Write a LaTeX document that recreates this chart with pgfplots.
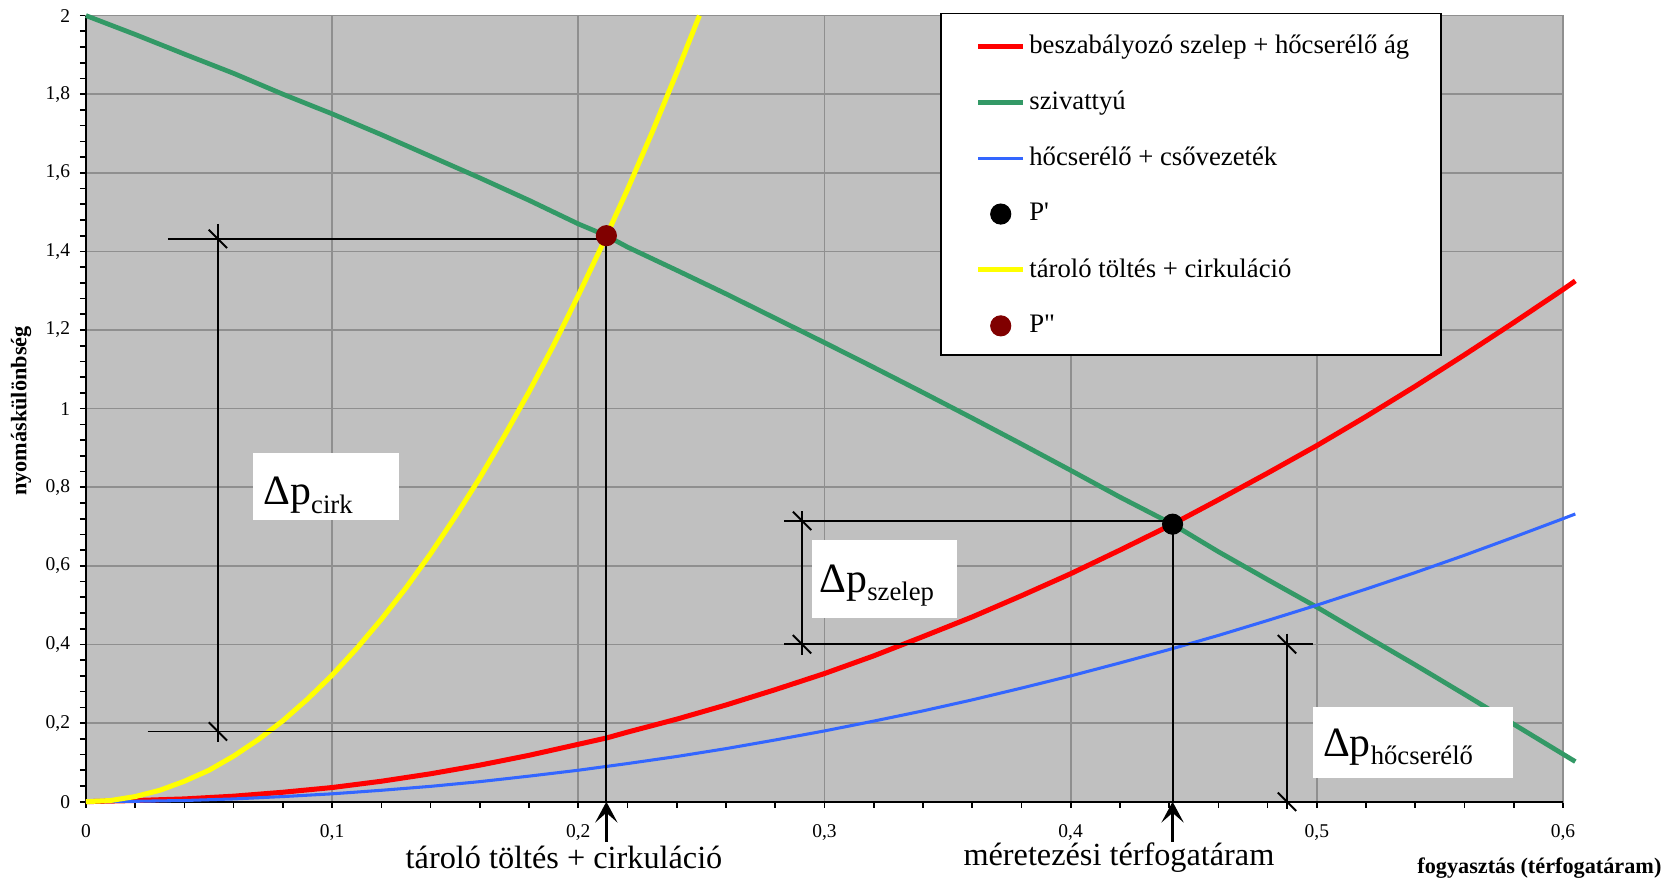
\documentclass[border=0pt]{standalone}
\usepackage{fontspec}
\setmainfont{Liberation Serif}
\newfontfamily\plainserif{Liberation Serif}
\usepackage{pgfplots}
\pgfplotsset{compat=1.18}
\usepackage{pgfplotstable}
\usetikzlibrary{arrows.meta}
\definecolor{plotbg}{HTML}{C0C0C0}
\definecolor{gridgray}{HTML}{8F8F8F}
\definecolor{cred}{HTML}{FF0000}
\definecolor{cgreen}{HTML}{339966}
\definecolor{cblue}{HTML}{3366FF}
\definecolor{cyellow}{HTML}{FFFF00}
\definecolor{cdarkred}{HTML}{800000}

\pgfplotstableread{
x y
0 0
0.02 0.003
0.04 0.007
0.06 0.014
0.08 0.024
0.10 0.036
0.12 0.052
0.14 0.071
0.16 0.093
0.18 0.118
0.20 0.146
0.2114 0.162
0.22 0.177
0.24 0.210
0.26 0.246
0.28 0.285
0.30 0.326
0.32 0.371
0.34 0.420
0.36 0.470
0.38 0.524
0.40 0.580
0.42 0.640
0.4414 0.706
0.46 0.768
0.48 0.836
0.50 0.906
0.52 0.980
0.54 1.057
0.56 1.137
0.58 1.219
0.60 1.303
0.605 1.325
}\redtab

\pgfplotstableread{
x y
0 2.000
0.02 1.952
0.04 1.902
0.06 1.853
0.08 1.800
0.10 1.750
0.12 1.697
0.14 1.642
0.16 1.587
0.18 1.530
0.20 1.470
0.2114 1.440
0.22 1.411
0.24 1.352
0.26 1.292
0.28 1.230
0.30 1.168
0.32 1.105
0.34 1.041
0.36 0.976
0.38 0.910
0.40 0.843
0.42 0.775
0.4414 0.706
0.46 0.636
0.48 0.565
0.50 0.495
0.52 0.421
0.54 0.348
0.56 0.273
0.58 0.197
0.60 0.121
0.605 0.102
}\greentab

\pgfplotstableread{
x y
0 0
0.02 0.001
0.04 0.003
0.06 0.007
0.08 0.013
0.10 0.020
0.12 0.029
0.14 0.039
0.16 0.051
0.18 0.065
0.20 0.080
0.22 0.097
0.24 0.115
0.26 0.135
0.28 0.157
0.30 0.180
0.32 0.205
0.34 0.231
0.36 0.259
0.38 0.289
0.40 0.320
0.42 0.353
0.44 0.387
0.46 0.423
0.48 0.461
0.50 0.500
0.52 0.541
0.54 0.583
0.56 0.627
0.58 0.673
0.60 0.720
0.605 0.732
}\bluetab

\pgfplotstableread{
x y
0 0
0.01 0.003
0.02 0.013
0.03 0.029
0.04 0.052
0.05 0.080
0.06 0.116
0.07 0.158
0.08 0.206
0.09 0.261
0.10 0.322
0.11 0.390
0.12 0.464
0.13 0.544
0.14 0.631
0.15 0.725
0.16 0.824
0.17 0.931
0.18 1.043
0.19 1.162
0.20 1.288
0.21 1.420
0.22 1.558
0.23 1.703
0.24 1.855
0.2492 2.000
}\yellowtab

\begin{document}
\begin{tikzpicture}
\useasboundingbox (0,0) rectangle (600pt,317pt);
\begin{axis}[
  at={(30.9pt,28.8pt)}, anchor=south west,
  scale only axis, width=531pt, height=282.6pt,
  xmin=0, xmax=0.6, ymin=0, ymax=2,
  xtick={0,0.1,0.2,0.3,0.4,0.5,0.6},
  ytick={0,0.2,0.4,0.6,0.8,1,1.2,1.4,1.6,1.8,2},
  minor x tick num=4, minor y tick num=4,
  xtick pos=left, ytick pos=left,
  tick align=outside, major tick length=2.2pt, minor tick length=2.2pt,
  tick style={black, line width=0.6pt},
  grid=major, major grid style={draw=gridgray, line width=0.6pt},
  axis background/.style={fill=plotbg},
  axis line style={draw=gridgray, line width=0.6pt},
  clip=false,
  /pgf/number format/use comma,
  /pgf/number format/fixed,
  /pgf/number format/assume math mode=true,
  tick label style={font=\fontsize{7}{8}\selectfont},
  x tick label style={yshift=-2.5pt},
  xlabel={fogyasztás (térfogatáram)},
  ylabel={nyomáskülönbség},
  xlabel style={at={(axis description cs:0.984,-0.084)}, anchor=center, font=\bfseries\fontsize{8}{9.6}\selectfont},
  ylabel style={at={(axis description cs:-0.0439,0.497)}, anchor=center, font=\bfseries\fontsize{8}{9.6}\selectfont},
  legend style={draw=none, fill=none, at={(axis cs:0.3473,2.005)}, anchor=north west,
    inner xsep=12.4pt, inner ysep=1.5pt, row sep=0pt, column sep=0pt,
    font=\fontsize{9.6}{11.5}\selectfont,
    nodes={minimum height=20.1pt, inner ysep=0pt, inner xsep=1.4pt}},
  legend cell align=left,
  legend image code/.code={\draw[mark repeat=2,mark phase=2,#1] plot coordinates {(0pt,0pt) (8pt,0pt) (16pt,0pt)};},
]
% black left / bottom axis lines
\draw[black, line width=0.7pt] (axis cs:0,2) -- (axis cs:0,0) -- (axis cs:0.6,0);

\addplot[cred, line width=1.8pt, no marks] table {\redtab};
\addlegendentry{beszabályozó szelep + hőcserélő ág}
\addplot[cgreen, line width=1.7pt, no marks] table {\greentab};
\addlegendentry{szivattyú}
\addplot[cblue, line width=1.1pt, no marks] table {\bluetab};
\addlegendentry{hőcserélő + csővezeték}
\addplot[only marks, mark=*, mark size=3.6pt, draw=black, fill=black] coordinates {(0.4414,0.706)};
\addlegendentry{{\plainserif P'}}
\addplot[cyellow, line width=1.8pt, no marks] table {\yellowtab};
\addlegendentry{tároló töltés + cirkuláció}
\addplot[only marks, mark=*, mark size=3.6pt, draw=cdarkred, fill=cdarkred] coordinates {(0.2114,1.44)};
\addlegendentry{{\plainserif P"}}

% legend frame
\draw[black, line width=0.6pt, fill=white] (axis cs:0.3473,2.005) rectangle (axis cs:0.5504,1.137);

% dimension lines: cirk
\draw[black, line width=0.7pt] (axis cs:0.0333,1.432) -- (axis cs:0.2114,1.432);
\draw[black, line width=0.7pt] (axis cs:0.0251,0.1786) -- (axis cs:0.2114,0.1786);
\draw[black, line width=0.7pt] (axis cs:0.0536,1.47) -- (axis cs:0.0536,0.152);
\draw[black, line width=0.7pt] (axis cs:0.0536,1.432) ++(-3.3pt,3.3pt) -- ++(6.6pt,-6.6pt);
\draw[black, line width=0.7pt] (axis cs:0.0536,0.1786) ++(-3.3pt,3.3pt) -- ++(6.6pt,-6.6pt);
% szelep
\draw[black, line width=0.7pt] (axis cs:0.2836,0.7145) -- (axis cs:0.4414,0.7145);
\draw[black, line width=0.7pt] (axis cs:0.2836,0.4005) -- (axis cs:0.4984,0.4005);
\draw[black, line width=0.7pt] (axis cs:0.2909,0.739) -- (axis cs:0.2909,0.3735);
\draw[black, line width=0.7pt] (axis cs:0.2909,0.7145) ++(-3.3pt,3.3pt) -- ++(6.6pt,-6.6pt);
\draw[black, line width=0.7pt] (axis cs:0.2909,0.4005) ++(-3.3pt,3.3pt) -- ++(6.6pt,-6.6pt);
% hocserelo
\draw[black, line width=0.7pt] (axis cs:0.4879,0.4275) -- (axis cs:0.4879,-0.018);
\draw[black, line width=0.7pt] (axis cs:0.4879,0.4005) ++(-3.3pt,3.3pt) -- ++(6.6pt,-6.6pt);
\draw[black, line width=0.7pt] (axis cs:0.4879,0) ++(-3.3pt,3.3pt) -- ++(6.6pt,-6.6pt);
% vertical lines to points
\draw[black, line width=0.7pt] (axis cs:0.2114,0) -- (axis cs:0.2114,1.44);
\draw[black, line width=0.7pt] (axis cs:0.4414,0) -- (axis cs:0.4414,0.706);
% arrows
\draw[black, line width=1.3pt, -{Stealth[length=7.5pt,width=8pt,inset=3.5pt]}] (axis cs:0.2114,-0.102) -- (axis cs:0.2114,0);
\draw[black, line width=1.3pt, -{Stealth[length=7.5pt,width=8pt,inset=3.5pt]}] (axis cs:0.4414,-0.102) -- (axis cs:0.4414,0);
% texts below
\node[font=\fontsize{11.6}{14}\selectfont] at (axis cs:0.1942,-0.1425) {tároló töltés + cirkuláció};
\node[font=\fontsize{11.6}{14}\selectfont] at (axis cs:0.4196,-0.1425) {méretezési térfogatáram};

% delta p boxes
\fill[white] (axis cs:0.0678,0.888) rectangle (axis cs:0.1271,0.7176);
\node[anchor=base west, inner sep=0pt, font=\fontsize{15}{18}\selectfont] at (axis cs:0.0719,0.755) {Δp\raisebox{-3pt}{\fontsize{9.6}{11}\selectfont cirk}};
\fill[white] (axis cs:0.2951,0.666) rectangle (axis cs:0.3538,0.468);
\node[anchor=base west, inner sep=0pt, font=\fontsize{15}{18}\selectfont] at (axis cs:0.2978,0.533) {Δp\raisebox{-3pt}{\fontsize{9.6}{11}\selectfont szelep}};
\fill[white] (axis cs:0.4984,0.2417) rectangle (axis cs:0.5797,0.0611);
\node[anchor=base west, inner sep=0pt, font=\fontsize{15}{18}\selectfont] at (axis cs:0.5023,0.116) {Δp\raisebox{-3pt}{\fontsize{9.6}{11}\selectfont hőcserélő}};
\end{axis}
\end{tikzpicture}
\end{document}
